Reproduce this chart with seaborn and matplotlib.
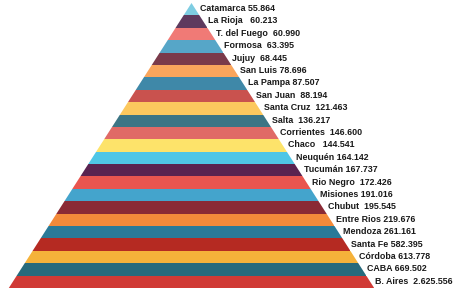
import numpy as np
import pandas as pd
import seaborn as sns
import matplotlib
matplotlib.use("Agg")
import matplotlib.pyplot as plt
from matplotlib.patches import Polygon

provinces = ["Catamarca", "La Rioja", "T. del Fuego", "Formosa", "Jujuy", "San Luis",
             "La Pampa", "San Juan", "Santa Cruz", "Salta", "Corrientes", "Chaco",
             "Neuquén", "Tucumán", "Rio Negro", "Misiones", "Chubut", "Entre Rios",
             "Mendoza", "Santa Fe", "Córdoba", "CABA", "B. Aires"]
values = ["55.864", "60.213", "60.990", "63.395", "68.445", "78.696",
          "87.507", "88.194", "121.463", "136.217", "146.600", "144.541",
          "164.142", "167.737", "172.426", "191.016", "195.545", "219.676",
          "261.161", "582.395", "613.778", "669.502", "2.625.556"]
spaces = [1, 3, 2, 2, 2, 1, 1, 2, 2, 2, 2, 3, 1, 1, 2, 1, 2, 1, 1, 1, 1, 1, 2]
colors = ["#7ecde2", "#5e3a5e", "#f07a76", "#56a6c8", "#7a3a4a", "#f9a55c",
          "#3f88a8", "#c9524e", "#fcc85e", "#3c7585", "#e06a66", "#fde36a",
          "#4fc6e6", "#5a2350", "#e9554f", "#44a4cc", "#8a2a35", "#f38a3a",
          "#2a7a98", "#b52a22", "#f5b23a", "#276a7c", "#d03a35"]

sns.set_style("white")
plt.rcParams["font.family"] = ["Liberation Sans", "DejaVu Sans"]

n = len(provinces)
apex_x = 191.5
half_base = 182.7
rank = np.arange(n)
right_edge = apex_x + half_base * (rank + 1) / n

df = pd.DataFrame({"prov": provinces, "edge": right_edge})

fig = plt.figure(figsize=(4.55, 2.9), dpi=100)
ax = fig.add_axes([0, 0, 1, 1])
sns.barplot(data=df, x="edge", y="prov", hue="prov", palette=colors,
            width=1.0, legend=False, ax=ax, orient="h", saturation=1,
            linewidth=0)
bars = list(ax.patches)
tri = Polygon([[apex_x, -0.5], [apex_x - half_base, n - 0.5],
               [apex_x + half_base, n - 0.5]], closed=True,
              transform=ax.transData, facecolor="none", edgecolor="none")
ax.add_patch(tri)
for b in bars:
    b.set_clip_path(tri)

for i, (name, val, sp) in enumerate(zip(provinces, values, spaces)):
    xe = apex_x + half_base * (i + 0.5) / n
    ax.text(xe + 5, i - 0.05, f"{name}{' ' * sp}{val}", ha="left", va="center",
            fontsize=6.4, fontweight="bold", color="#1a1a1a")

ax.set_xlim(0, 455)
ax.set_ylim(22.66, -0.742)
ax.axis("off")
fig.savefig("out.png", dpi=100, facecolor="white")
